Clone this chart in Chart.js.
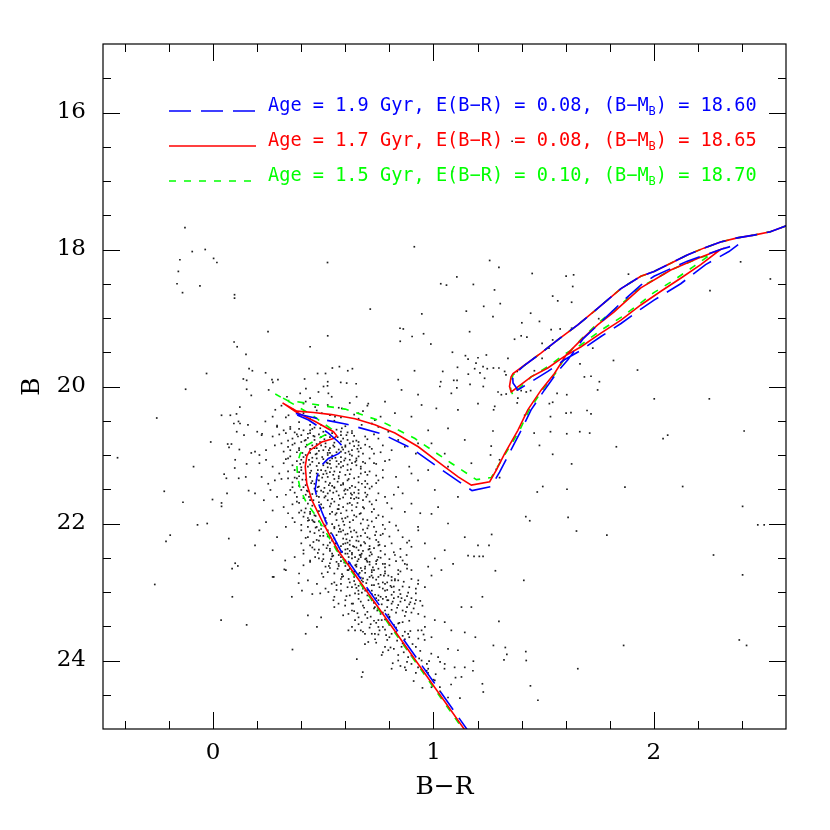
<!DOCTYPE html>
<html>
<head>
<meta charset="utf-8">
<script src="https://cdn.jsdelivr.net/npm/chart.js@4.4.0/dist/chart.umd.min.js"></script>
<style>
  body { margin: 0; background: #fff; }
  canvas { display: block; }
</style>
</head>
<body>
<canvas id="cmd" width="830" height="830"></canvas>
<script>
// Colour-magnitude diagram (B vs B-R) with three isochrones

// axis ticks
const xMajorTicks = [0, 1, 2];
const xAllTicks = [-0.4, -0.2, 0, 0.2, 0.4, 0.6, 0.8, 1, 1.2, 1.4, 1.6, 1.8, 2, 2.2, 2.4];
const yMajorTicks = [16, 18, 20, 22, 24];
const yAllTicks = [15.5, 16, 16.5, 17, 17.5, 18, 18.5, 19, 19.5, 20, 20.5, 21, 21.5, 22, 22.5, 23, 23.5, 24, 24.5];

// isochrone parameters (legend)
const isoAge = ['1.9', '1.7', '1.5'];
const isoEBR = ['0.08', '0.08', '0.10'];
const isoDM = ['18.60', '18.65', '18.70'];

// isochrones, [B-R, B]
const isoBlue = [
    [1.173, 25.1], [0.578, 22.39], [0.515, 22.00], [0.478, 21.71], [0.463, 21.51], [0.471, 21.32],
    [0.486, 21.17], [0.523, 21.05], [0.569, 20.98], [0.596, 20.90], [0.569, 20.81], [0.523, 20.68],
    [0.433, 20.49], [0.357, 20.38],
    [0.478, 20.47], [0.606, 20.55], [0.765, 20.69], [0.900, 20.90], [1.039, 21.22], [1.175, 21.52],
    [1.262, 21.46], [1.300, 21.25], [1.398, 20.64], [1.443, 20.34], [1.504, 20.05], [1.564, 19.78],
    [1.610, 19.61], [1.680, 19.30], [1.760, 19.06], [1.851, 18.78], [1.941, 18.52], [2.001, 18.39],
    [2.152, 18.17], [2.303, 18.00], [2.386, 17.92],
    [2.341, 18.03], [2.235, 18.22], [2.122, 18.50], [2.001, 18.74], [1.941, 18.87], [1.851, 19.08],
    [1.760, 19.27], [1.670, 19.47], [1.594, 19.61], [1.519, 19.78], [1.443, 19.93], [1.383, 20.05],
    [1.361, 19.95], [1.360, 19.88], [1.368, 19.82],
    [1.413, 19.69], [1.489, 19.51], [1.564, 19.32], [1.655, 19.10], [1.745, 18.86], [1.851, 18.57],
    [1.941, 18.39], [2.001, 18.32], [2.077, 18.20], [2.152, 18.08], [2.227, 17.98], [2.303, 17.89],
    [2.379, 17.83], [2.454, 17.79], [2.529, 17.74], [2.605, 17.65]
];
const isoRed = [
    [1.161, 25.1], [0.566, 22.39], [0.500, 22.00], [0.448, 21.66], [0.425, 21.42], [0.418, 21.17],
    [0.425, 21.02], [0.440, 20.93], [0.493, 20.81], [0.546, 20.76], [0.561, 20.72], [0.546, 20.66],
    [0.463, 20.51], [0.380, 20.38], [0.315, 20.24],
    [0.380, 20.36], [0.456, 20.38], [0.538, 20.41], [0.644, 20.47], [0.734, 20.56], [0.825, 20.68],
    [0.931, 20.88], [1.021, 21.10], [1.112, 21.32], [1.172, 21.44], [1.255, 21.39], [1.285, 21.22],
    [1.323, 20.98], [1.383, 20.64], [1.428, 20.34], [1.489, 20.05], [1.549, 19.81], [1.602, 19.54],
    [1.670, 19.32], [1.745, 19.10], [1.820, 18.91], [1.851, 18.82], [1.941, 18.56], [2.077, 18.30],
    [2.198, 18.13], [2.303, 18.00],
    [2.213, 18.22], [2.122, 18.42], [2.032, 18.61], [1.941, 18.81], [1.851, 19.03], [1.760, 19.22],
    [1.670, 19.42], [1.594, 19.56], [1.519, 19.73], [1.443, 19.86], [1.353, 20.08],
    [1.345, 20.00], [1.352, 19.86], [1.361, 19.81],
    [1.413, 19.69], [1.489, 19.51], [1.564, 19.32], [1.655, 19.10], [1.745, 18.86], [1.851, 18.57],
    [1.941, 18.39], [2.001, 18.32], [2.077, 18.20], [2.152, 18.08], [2.227, 17.98], [2.303, 17.89],
    [2.379, 17.83], [2.454, 17.79], [2.529, 17.74], [2.605, 17.65]
];
const isoGreen = [
    [1.155, 25.1], [0.560, 22.39], [0.470, 21.90], [0.425, 21.71], [0.395, 21.50], [0.383, 21.30],
    [0.380, 21.15], [0.395, 20.98], [0.425, 20.86], [0.478, 20.76], [0.523, 20.68], [0.536, 20.62],
    [0.450, 20.42], [0.360, 20.25], [0.282, 20.11],
    [0.335, 20.20], [0.456, 20.26], [0.599, 20.33], [0.765, 20.51], [0.916, 20.76], [1.081, 21.12],
    [1.195, 21.36], [1.262, 21.33], [1.285, 21.20], [1.391, 20.64], [1.435, 20.34], [1.495, 20.05],
    [1.553, 19.81], [1.605, 19.54], [1.673, 19.30], [1.748, 19.07], [1.851, 18.80], [1.941, 18.55],
    [2.077, 18.30], [2.200, 18.13], [2.260, 18.07],
    [2.180, 18.25], [2.090, 18.45], [2.000, 18.63], [1.941, 18.78], [1.851, 18.99], [1.760, 19.18],
    [1.670, 19.39], [1.594, 19.53], [1.519, 19.71], [1.443, 19.86], [1.360, 20.12],
    [1.350, 20.05], [1.355, 19.90], [1.361, 19.83],
    [1.413, 19.69], [1.489, 19.51], [1.564, 19.32], [1.655, 19.10], [1.745, 18.86], [1.851, 18.57],
    [1.941, 18.39], [2.001, 18.32], [2.077, 18.20], [2.152, 18.08], [2.227, 17.98], [2.303, 17.89],
    [2.379, 17.83], [2.454, 17.79], [2.529, 17.74], [2.605, 17.65]
];

// stars, [B-R, B]
const starsHalo = [
    [-0.128,17.68],[-0.095,18.03],[-0.036,18.00],[0.002,18.13],[0.017,18.19],[-0.151,18.15],[-0.158,18.32],[-0.164,18.50],[-0.139,18.63],[-0.060,18.53],
    [0.097,18.66],[0.097,18.71],[0.519,18.19],[0.913,17.96],[0.713,18.87],[1.033,18.50],[1.059,18.52],[1.106,18.40],[1.181,18.51],[0.947,18.94],
    [1.149,18.90],[0.848,19.15],[0.863,19.16],[0.903,19.27],[0.955,19.23],[0.849,19.34],[0.988,19.38],[1.164,19.20],[0.249,19.20],[0.520,19.26],
    [0.440,19.42],[0.095,19.35],[0.109,19.42],[0.149,19.53],[1.086,19.50],[1.145,19.55],[1.157,19.60],[1.202,19.58],[1.193,19.66],[1.109,19.72],
    [1.187,19.74],[1.211,19.80],[1.158,19.82],[1.042,19.78],[0.914,19.77],[0.840,19.90],[1.033,19.93],[1.092,19.91],[1.107,19.91],[1.166,19.97],
    [1.106,20.02],[-0.030,19.81],[0.163,19.74],[0.178,19.77],[0.238,19.80],[0.137,19.89],[0.152,19.91],[0.267,19.90],[0.271,19.94],[0.294,19.90],
    [0.415,19.89],[0.421,20.03],[0.474,19.81],[0.510,19.81],[0.541,19.73],[0.573,19.71],[0.611,19.77],[0.632,19.74],[0.520,19.93],[0.579,19.94],
    [0.606,19.95],[0.649,19.96],[0.501,20.00],[0.519,19.99],[-0.125,20.04],[0.152,20.04],[1.357,16.42],[1.086,16.86]
];
const starsWest = [
    [0.173,20.13],[0.121,20.30],[0.038,20.42],[0.078,20.42],[0.106,20.40],[-0.256,20.46],[0.115,20.51],[0.094,20.54],[0.122,20.54],[0.158,20.56],
    [0.107,20.66],[0.140,20.71],[-0.011,20.81],[0.066,20.84],[0.083,20.84],[0.072,20.89],[0.119,20.92],[0.173,20.97],[-0.434,21.04],[0.100,21.07],
    [0.152,21.13],[0.098,21.19],[-0.089,21.17],[0.050,21.28],[0.060,21.34],[0.116,21.34],[0.148,21.32],[-0.222,21.53],[0.063,21.56],[0.161,21.52],
    [-0.137,21.69],[-0.003,21.65],[0.038,21.70],[0.038,21.75],[-0.071,22.02],[-0.027,22.00],[-0.195,22.17],[-0.214,22.26],[0.071,22.22],[0.100,22.58],
    [0.112,22.62],[0.086,22.66],[-0.265,22.89],[0.087,23.07],[0.036,23.41],[0.152,23.48]
];
const starsSubgiant = [
    [0.252,20.05],[0.335,20.15],[0.395,20.10],[0.440,20.17],[0.478,20.08],[0.523,20.10],[0.538,20.15],[0.651,20.15],[0.704,20.25],[0.780,20.22],
    [0.855,20.05],[0.930,20.12],[1.029,20.00],[1.081,20.10],[0.237,20.51],[0.282,20.34],[0.342,20.42],[0.410,20.25],[0.463,20.30],[0.493,20.39],
    [0.553,20.44],[0.584,20.32],[0.659,20.39],[0.734,20.49],[0.825,20.39],[0.900,20.44],[0.946,20.27],[1.013,20.32],[1.111,20.34],[1.202,20.25],
    [0.222,20.69],[0.290,20.59],[0.350,20.59],[0.440,20.56],[0.486,20.61],[0.584,20.61],[0.674,20.56],[0.750,20.59],[0.795,20.66],[0.976,20.64],
    [1.066,20.61],[0.991,20.83],[1.051,20.98],[1.142,20.78],[0.976,21.22],[1.066,21.17],[1.172,21.12],[1.006,21.51],[1.111,21.61],[0.991,21.86],
    [1.066,22.00],[1.142,22.20],[0.961,22.29],[1.051,22.39],[1.157,22.47],[1.021,21.76],[0.931,22.10]
];
const starsMainSeq = [
    [0.20,20.66],[0.22,20.71],[0.27,20.73],[0.33,20.68],[0.36,20.76],[0.37,20.83],[0.40,20.71],[0.42,20.78],[0.44,20.68],[0.46,20.73],
    [0.49,20.86],[0.51,20.83],[0.58,20.71],[0.61,20.78],[0.63,20.68],[0.66,20.81],[0.69,20.73],[0.75,20.76],[0.77,20.86],[0.84,20.78],
    [0.19,20.95],[0.21,21.00],[0.24,20.93],[0.28,20.86],[0.31,20.83],[0.34,20.88],[0.39,20.90],[0.46,20.90],[0.47,20.98],[0.50,20.93],
    [0.52,21.00],[0.55,20.88],[0.58,20.95],[0.60,20.86],[0.63,20.93],[0.67,20.90],[0.71,20.88],[0.73,20.98],[0.81,20.93],[0.87,20.88],
    [0.93,20.83],[0.92,20.98],
    [0.21,21.12],[0.24,21.07],[0.27,21.17],[0.30,21.27],[0.32,21.12],[0.34,21.05],[0.37,21.22],[0.40,21.07],[0.43,21.17],[0.45,21.10],
    [0.47,21.27],[0.49,21.22],[0.52,21.12],[0.54,21.05],[0.56,21.17],[0.58,21.10],[0.61,21.22],[0.63,21.12],[0.65,21.05],[0.67,21.20],
    [0.70,21.29],[0.73,21.12],[0.77,21.22],[0.80,21.07],[0.83,21.32],[0.89,21.17],[0.93,21.37],[0.22,21.32],[0.25,21.42],[0.28,21.37],
    [0.34,21.34],[0.38,21.34],[0.41,21.27],[0.44,21.32],[0.48,21.37],[0.52,21.32],[0.57,21.34],[0.61,21.37],[0.66,21.32],[0.70,21.42],
    [0.75,21.37],[0.84,21.47],[0.90,21.27],
    [0.19,21.56],[0.23,21.66],[0.26,21.51],[0.29,21.61],[0.32,21.76],[0.36,21.47],[0.38,21.61],[0.40,21.51],[0.43,21.71],[0.46,21.49],
    [0.48,21.61],[0.50,21.54],[0.52,21.66],[0.55,21.47],[0.57,21.59],[0.59,21.76],[0.61,21.51],[0.64,21.64],[0.66,21.56],[0.68,21.76],
    [0.71,21.49],[0.74,21.66],[0.78,21.61],[0.81,21.78],[0.86,21.56],[0.90,21.71],[0.94,21.85],[0.27,21.81],[0.34,21.85],[0.40,21.81],
    [0.44,21.83],[0.49,21.78],[0.54,21.83],[0.58,21.85],[0.63,21.81],[0.67,21.85],[0.72,21.83],[0.77,21.90],[0.87,21.83],
    [0.21,22.10],[0.24,21.98],[0.29,22.20],[0.33,22.05],[0.37,21.98],[0.40,22.10],[0.43,22.20],[0.45,21.95],[0.48,22.10],[0.51,22.03],
    [0.53,22.20],[0.55,22.05],[0.58,22.12],[0.60,22.29],[0.62,22.25],[0.64,22.34],[0.61,22.15],[0.64,22.10],[0.67,22.00],[0.70,22.20],
    [0.73,22.05],[0.77,22.15],[0.80,21.98],[0.84,22.10],[0.89,22.25],[0.93,22.05],[0.40,22.29],[0.44,22.32],[0.48,22.25],[0.52,22.32],
    [0.56,22.29],[0.61,22.37],[0.67,22.32],[0.75,22.32],[0.81,22.29],[0.90,22.34],[0.19,22.32],[0.27,22.39],
    [0.33,22.68],[0.37,22.49],[0.41,22.44],[0.44,22.56],[0.48,22.51],[0.51,22.63],[0.54,22.44],[0.56,22.56],[0.58,22.49],[0.61,22.44],
    [0.63,22.51],[0.65,22.63],[0.67,22.46],[0.70,22.56],[0.72,22.68],[0.75,22.49],[0.77,22.59],[0.81,22.78],[0.86,22.54],[0.90,22.68],
    [0.93,22.88],[0.27,22.78],[0.39,22.73],[0.43,22.83],[0.50,22.78],[0.55,22.73],[0.58,22.81],[0.61,22.68],[0.64,22.78],[0.68,22.85],
    [0.71,22.78],[0.75,22.88],[0.78,22.73],[0.84,22.83],[0.89,22.93],
    [0.45,23.03],[0.51,22.95],[0.55,23.07],[0.58,22.98],[0.60,23.12],[0.63,22.93],[0.66,23.03],[0.69,22.98],[0.72,23.12],[0.75,23.05],
    [0.78,22.98],[0.81,23.17],[0.84,23.07],[0.88,23.22],[0.92,23.12],[0.55,23.22],[0.59,23.34],[0.63,23.27],[0.66,23.37],[0.70,23.29],
    [0.73,23.42],[0.76,23.32],[0.80,23.37],[0.84,23.46],[0.89,23.42],[0.93,23.56],[0.63,23.51],[0.67,23.56],[0.72,23.61],[0.77,23.51],
    [0.81,23.61],[0.86,23.64],[0.49,23.37],[0.42,23.61]
];
const starsCore = [
    [0.35,20.62],[0.38,20.70],[0.41,20.64],[0.43,20.75],[0.45,20.62],[0.48,20.70],[0.50,20.66],[0.53,20.74],[0.56,20.63],[0.58,20.80],
    [0.61,20.67],[0.64,20.87],[0.36,20.85],[0.39,20.93],[0.42,20.88],[0.44,20.97],[0.47,20.84],[0.53,20.90],[0.56,20.96],[0.59,20.92],
    [0.62,20.99],[0.66,20.95],[0.69,20.85],[0.32,20.95],[0.30,20.70],
    [0.35,21.02],[0.38,21.09],[0.41,21.03],[0.44,21.14],[0.47,21.05],[0.50,21.15],[0.53,21.08],[0.55,21.24],[0.58,21.18],[0.60,21.05],
    [0.62,21.28],[0.65,21.15],[0.68,21.10],[0.71,21.24],[0.36,21.40],[0.39,21.25],[0.42,21.44],[0.45,21.38],[0.48,21.46],[0.50,21.28],
    [0.53,21.41],[0.55,21.48],[0.59,21.43],[0.63,21.45],[0.66,21.40],[0.69,21.47],[0.74,21.30],[0.31,21.35],
    [0.37,21.55],[0.39,21.70],[0.42,21.58],[0.44,21.66],[0.47,21.53],[0.49,21.72],[0.51,21.60],[0.53,21.52],[0.55,21.68],[0.57,21.73],
    [0.60,21.57],[0.62,21.70],[0.65,21.62],[0.69,21.55],[0.72,21.72],[0.41,21.90],[0.43,21.96],[0.46,21.88],[0.48,21.97],[0.51,21.92],
    [0.53,21.86],[0.56,21.95],[0.60,21.92],[0.62,21.98],[0.65,21.90],[0.70,21.95],[0.75,21.88],[0.36,21.92],
    [0.43,22.05],[0.46,22.14],[0.49,22.02],[0.50,22.18],[0.52,22.10],[0.54,22.25],[0.56,22.17],[0.57,22.03],[0.59,22.22],[0.60,22.38],
    [0.62,22.31],[0.63,22.43],[0.65,22.35],[0.66,22.26],[0.68,22.40],[0.69,22.14],[0.71,22.33],[0.72,22.45],[0.74,22.24],[0.76,22.40],
    [0.78,22.08],[0.46,22.38],[0.50,22.45],[0.53,22.40],[0.57,22.46],[0.59,22.30],[0.82,22.42],[0.86,22.20],
    [0.58,22.55],[0.60,22.62],[0.62,22.58],[0.64,22.70],[0.66,22.52],[0.67,22.65],[0.69,22.72],[0.71,22.60],[0.73,22.68],[0.74,22.55],
    [0.76,22.75],[0.78,22.64],[0.80,22.52],[0.62,22.86],[0.65,22.94],[0.68,22.80],[0.70,22.97],[0.72,22.90],[0.74,22.82],[0.77,22.95],
    [0.79,22.86],[0.82,22.92],[0.85,22.70],[0.88,22.60],[0.56,22.90],[0.53,22.65],
    [0.66,23.10],[0.68,23.20],[0.70,23.05],[0.73,23.16],[0.75,23.25],[0.77,23.10],[0.79,23.22],[0.81,23.04],[0.83,23.30],[0.85,23.14],
    [0.87,23.35],[0.70,23.38],[0.74,23.45],[0.78,23.40],[0.82,23.48],[0.86,23.44],[0.90,23.30],[0.95,23.20],
    [0.75,23.62],[0.79,23.70],[0.83,23.58],[0.86,23.75],[0.89,23.66],[0.92,23.80],[0.96,23.70],[0.99,23.90],[0.84,23.92],[0.88,24.02],
    [0.93,24.10],[0.97,24.05],[1.01,24.20],[1.05,24.12],[0.91,24.30],[1.08,24.35],[1.03,24.45]
];
const starsCoreDense = [
    [0.31,20.28],[0.36,20.33],[0.42,20.22],[0.47,20.35],[0.52,20.27],[0.57,20.31],[0.62,20.24],[0.68,20.36],[0.33,20.45],[0.39,20.52],
    [0.44,20.47],[0.49,20.56],[0.55,20.50],[0.60,20.58],[0.66,20.47],[0.72,20.54],[0.29,20.57],[0.41,20.39],[0.53,20.42],[0.64,20.41],
    [0.27,20.44],[0.46,20.60],[0.58,20.45],[0.70,20.28],[0.76,20.44],
    [0.32,20.64],[0.34,20.79],[0.37,20.67],[0.38,20.96],[0.40,20.81],[0.41,21.11],[0.43,20.69],[0.44,20.91],[0.45,21.04],[0.46,20.78],
    [0.47,21.16],[0.48,20.94],[0.49,20.74],[0.50,21.06],[0.51,20.88],[0.52,21.18],[0.53,20.97],[0.54,20.68],[0.55,20.82],[0.56,21.09],
    [0.57,20.92],[0.58,21.03],[0.59,20.76],[0.60,20.97],[0.61,21.14],[0.62,20.83],[0.63,21.01],[0.64,20.72],[0.65,21.08],[0.66,20.86],
    [0.67,21.17],[0.68,20.98],[0.70,20.77],[0.71,21.05],[0.72,20.91],[0.74,21.13],[0.76,20.96],[0.36,21.15],[0.39,20.62],[0.42,21.00],
    [0.45,20.86],[0.48,21.12],[0.51,20.71],[0.54,21.01],[0.57,21.13],[0.60,20.88],[0.63,20.65],[0.66,21.02],[0.69,21.12],[0.35,20.93],
    [0.44,20.64],[0.52,20.97],[0.58,20.66],[0.62,21.07],[0.33,21.06],[0.40,21.18],[0.47,20.90],[0.53,21.13],[0.59,21.16],[0.65,20.79],
    [0.73,20.70],[0.78,21.09],
    [0.34,21.24],[0.35,21.51],[0.37,21.33],[0.38,21.68],[0.39,21.45],[0.40,21.22],[0.41,21.63],[0.42,21.36],[0.43,21.53],[0.44,21.26],
    [0.45,21.74],[0.46,21.42],[0.47,21.60],[0.48,21.30],[0.49,21.52],[0.50,21.77],[0.51,21.39],[0.52,21.56],[0.53,21.25],[0.54,21.64],
    [0.55,21.35],[0.56,21.53],[0.57,21.79],[0.58,21.44],[0.59,21.62],[0.60,21.29],[0.61,21.71],[0.62,21.48],[0.63,21.58],[0.64,21.34],
    [0.65,21.76],[0.66,21.51],[0.67,21.27],[0.68,21.66],[0.69,21.38],[0.70,21.58],[0.72,21.46],[0.73,21.79],[0.75,21.56],[0.77,21.33],
    [0.79,21.70],[0.36,21.72],[0.39,21.31],[0.42,21.78],[0.45,21.57],[0.48,21.69],[0.51,21.23],[0.54,21.45],[0.57,21.31],[0.60,21.50],
    [0.63,21.73],[0.66,21.63],[0.69,21.25],[0.71,21.68],[0.33,21.58],[0.41,21.47],[0.47,21.36],[0.53,21.75],[0.59,21.41],[0.64,21.55],
    [0.74,21.41],[0.82,21.58],
    [0.39,21.84],[0.40,22.02],[0.42,22.21],[0.43,21.92],[0.44,22.12],[0.45,22.35],[0.46,21.98],[0.47,22.24],[0.48,21.82],[0.49,22.08],
    [0.50,22.31],[0.51,21.96],[0.52,22.19],[0.53,22.37],[0.54,22.01],[0.55,22.22],[0.56,21.85],[0.57,22.12],[0.58,22.33],[0.59,21.97],
    [0.60,22.16],[0.61,22.28],[0.62,22.06],[0.63,22.20],[0.64,21.88],[0.65,22.13],[0.66,22.39],[0.67,22.18],[0.68,21.94],[0.69,22.29],
    [0.70,22.07],[0.71,22.22],[0.72,21.97],[0.73,22.36],[0.74,22.12],[0.75,22.27],[0.77,22.02],[0.78,22.33],[0.80,22.19],[0.83,22.03],
    [0.85,22.37],[0.41,22.39],[0.44,21.86],[0.47,22.05],[0.50,22.13],[0.53,22.28],[0.56,22.36],[0.59,22.10],[0.62,22.40],[0.65,22.25],
    [0.68,22.09],[0.71,22.37],[0.74,21.92],[0.48,22.38],[0.55,22.07],[0.61,21.90],[0.67,22.32],[0.76,22.17],[0.88,22.28],
    [0.50,22.52],[0.52,22.71],[0.54,22.48],[0.55,22.86],[0.57,22.62],[0.58,22.42],[0.59,22.77],[0.60,22.54],[0.61,22.93],[0.62,22.66],
    [0.63,22.45],[0.64,22.84],[0.65,22.60],[0.66,22.74],[0.67,22.49],[0.68,22.95],[0.69,22.63],[0.70,22.82],[0.71,22.47],[0.72,22.71],
    [0.73,22.90],[0.74,22.59],[0.75,22.78],[0.76,22.50],[0.77,22.86],[0.78,22.70],[0.79,22.97],[0.80,22.61],[0.81,22.83],[0.83,22.55],
    [0.84,22.74],[0.86,22.92],[0.88,22.66],[0.90,22.81],[0.56,22.97],[0.60,22.44],[0.63,22.69],[0.66,22.91],[0.69,22.52],[0.72,22.98],
    [0.75,22.66],[0.78,22.45],[0.82,23.00],[0.53,22.58],[0.58,22.88],[0.67,22.79],[0.71,22.56],[0.85,22.49],[0.92,22.95],
    [0.62,23.05],[0.64,23.28],[0.66,23.47],[0.67,23.14],[0.69,23.33],[0.71,23.52],[0.72,23.03],[0.73,23.24],[0.75,23.41],[0.76,23.07],
    [0.77,23.30],[0.78,23.55],[0.79,23.12],[0.80,23.36],[0.81,23.26],[0.82,23.09],[0.84,23.19],[0.85,23.03],[0.86,23.27],[0.87,23.12],
    [0.88,23.06],[0.89,23.18],[0.90,23.09],[0.91,23.24],[0.92,23.02],[0.94,23.13],[0.96,23.36],[0.83,23.52],[0.87,23.58],[0.68,23.58],
    [0.74,23.09],[0.80,23.48],
    [0.74,23.74],[0.77,23.88],[0.80,23.66],[0.82,23.83],[0.85,24.08],[0.87,23.69],[0.90,23.93],[0.92,24.18],[0.94,23.86],[0.98,24.01],
    [1.00,24.28],[1.03,24.02],[0.81,24.12],[0.95,24.40],[1.10,24.25],[1.12,24.55]
];
const starsCoreInner = [
    [0.385,20.73],[0.405,20.97],[0.415,20.79],[0.435,21.07],[0.455,20.72],[0.465,20.99],[0.475,21.22],[0.485,20.81],[0.495,21.03],[0.505,20.77],
    [0.515,21.27],[0.525,20.93],[0.535,21.19],[0.545,20.86],[0.555,21.04],[0.565,20.74],[0.575,21.25],[0.585,20.89],[0.595,21.08],[0.605,20.71],
    [0.615,20.95],[0.625,21.21],[0.635,20.80],[0.645,21.10],[0.655,20.91],[0.395,21.13],[0.425,20.85],[0.445,21.23],[0.515,21.11],[0.545,21.29],
    [0.405,21.36],[0.415,21.84],[0.425,21.52],[0.435,21.95],[0.445,21.41],[0.455,21.66],[0.465,21.89],[0.475,21.47],[0.485,21.76],[0.495,21.33],
    [0.505,21.62],[0.515,21.99],[0.525,21.44],[0.535,21.71],[0.545,21.55],[0.555,21.87],[0.565,21.39],[0.575,21.64],[0.585,21.93],[0.595,21.52],
    [0.605,21.81],[0.615,21.35],[0.625,21.63],[0.635,21.95],[0.645,21.47],[0.655,21.70],[0.665,21.86],[0.675,21.42],[0.685,21.78],[0.695,21.61],
    [0.435,21.61],[0.505,21.48],[0.565,21.79],[0.625,21.56],[0.455,21.97],
    [0.455,22.27],[0.465,22.06],[0.475,22.43],[0.485,22.18],[0.495,22.55],[0.505,22.04],[0.515,22.36],[0.525,22.62],[0.535,22.14],[0.545,22.47],
    [0.555,22.29],[0.565,22.66],[0.575,22.08],[0.585,22.41],[0.595,22.57],[0.605,22.23],[0.615,22.49],[0.625,22.12],[0.635,22.33],[0.645,22.61],
    [0.655,22.19],[0.665,22.46],[0.675,22.69],[0.685,22.27],[0.695,22.51],[0.705,22.03],[0.715,22.42],[0.725,22.64],[0.735,22.17],[0.745,22.53],
    [0.755,22.31],[0.535,22.52],[0.595,22.02],[0.655,22.55],[0.705,22.38],
    [0.585,22.74],[0.605,23.06],[0.615,22.81],[0.635,23.17],[0.645,22.89],[0.655,23.31],[0.665,22.72],[0.675,23.01],[0.685,23.23],[0.695,22.87],
    [0.705,23.12],[0.715,23.36],[0.725,22.79],[0.735,23.04],[0.745,23.27],[0.755,22.93],[0.765,23.18],[0.775,22.76],[0.785,23.07],[0.795,23.33],
    [0.805,22.91],[0.815,23.14],[0.825,22.81],[0.835,23.23],[0.845,22.97],[0.855,23.09],[0.865,22.85],[0.875,23.29],[0.885,23.01],[0.895,23.15],
    [0.715,23.47],[0.735,23.69],[0.755,23.56],[0.765,23.92],[0.785,23.63],[0.805,23.81],[0.815,24.04],[0.835,23.71],[0.845,23.45],[0.865,23.88],
    [0.875,24.14],[0.895,23.57],[0.905,23.76],[0.935,23.97],[0.955,23.62],[0.975,24.18]
];
const starsLowerMS = [
    [0.275,22.78],[0.327,22.54],[0.323,22.67],[0.410,22.61],[0.440,22.54],[0.463,22.49],[0.493,22.73],[0.471,22.88],[0.388,22.87],[0.403,22.98],
    [0.486,23.02],[0.523,23.00],[0.357,23.07],[0.430,23.34],[0.360,23.84],[0.471,23.51],[0.546,23.12],[0.569,23.17],[0.599,23.20],[0.538,22.88],
    [0.584,22.78],[0.614,22.68],[0.569,22.59],[0.614,22.59],[0.644,22.49],[0.674,22.44],[0.697,22.54],[0.689,22.66],[0.719,22.76],[0.674,22.83],
    [0.659,22.98],[0.644,23.02],[0.629,23.17],[0.614,23.32],[0.644,23.41],[0.614,23.56],[0.644,23.56],[0.674,23.44],[0.689,23.61],[0.704,23.73],
    [0.689,23.76],[0.734,23.61],[0.750,23.51],[0.765,23.41],[0.780,23.27],[0.795,23.12],[0.750,23.12],[0.734,23.22],[0.780,22.88],[0.795,22.76],
    [0.825,22.83],[0.810,22.93],[0.840,22.68],[0.870,22.59],[0.878,22.46],[0.825,22.46],[0.780,22.59],[0.931,22.83],[0.961,22.93],[0.991,22.76],
    [1.036,22.68],[0.915,23.17],[0.931,23.32],[0.961,23.51],[0.946,23.56],[0.991,23.66],[0.931,23.68],[0.885,23.61],[0.855,23.80],[0.795,23.85],
    [0.780,23.80],[0.840,24.00],[0.870,24.10],[0.900,24.05],[0.976,24.12],[1.021,23.95],[1.066,23.83],[1.111,23.85],[1.142,23.59],[1.081,23.56],
    [1.051,23.44],[1.006,23.41],[1.127,23.22],[1.172,23.22],[1.142,24.10],[1.127,24.24],[1.066,24.54],[1.029,24.39],[0.991,24.39],[1.006,24.29],
    [0.652,23.98],[0.679,24.17],[0.674,24.24],[0.885,23.95],[0.946,24.00],[0.969,24.15],[1.051,24.05],[1.096,24.10],[1.089,22.59],[1.006,22.51],
    [0.976,22.63]
];
const starsField = [
    [1.270,20.65],[1.457,20.68],[1.531,20.66],[1.605,20.69],[1.664,20.66],[1.709,20.68],[2.042,20.76],[2.063,20.71],[2.410,20.65],[1.262,20.87],
    [1.481,20.86],[1.830,20.88],[1.259,21.00],[1.541,20.99],[1.300,21.07],[1.627,21.13],[1.285,21.21],[1.300,21.33],[1.496,21.46],[1.471,21.54],
    [1.606,21.50],[1.869,21.47],[2.131,21.46],[2.403,21.75],[1.419,21.90],[1.437,21.96],[1.611,21.91],[1.649,22.11],[1.787,22.17],[2.472,22.02],
    [2.501,22.02],[1.264,22.16],[1.202,22.32],[1.252,22.32],[1.184,22.48],[1.208,22.48],[1.225,22.48],[2.271,22.46],[1.281,22.69],[1.410,22.83],
    [2.403,22.75],[1.222,23.07],[1.297,23.43],[1.190,23.66],[1.272,23.78],[1.326,23.81],[1.333,23.91],[1.320,23.99],[1.419,23.87],[1.421,24.00],
    [1.181,24.01],[1.179,24.15],[1.655,24.12],[1.863,23.78],[2.388,23.70],[2.421,23.78],[1.222,24.34],[1.226,24.46],[1.440,24.37],[1.474,24.58]
];
const starsGiants = [
    [1.255,18.16],[1.297,18.26],[1.448,18.35],[1.602,18.39],[1.636,18.37],[1.885,18.36],[1.632,18.54],[1.277,18.59],[1.541,18.68],[1.564,18.75],
    [1.627,18.77],[1.303,18.79],[1.228,18.83],[1.441,18.93],[1.270,18.98],[1.481,19.05],[1.401,19.07],[1.750,19.01],[1.534,19.17],[1.575,19.16],
    [1.398,19.26],[1.424,19.28],[1.368,19.31],[1.541,19.32],[1.627,19.15],[1.493,19.37],[1.524,19.44],[1.723,19.44],[1.240,19.54],[1.338,19.59],
    [1.493,19.59],[1.817,19.62],[1.665,19.67],[1.225,19.71],[1.244,19.74],[1.272,19.73],[1.297,19.73],[1.323,19.78],[1.232,19.88],[1.329,19.83],
    [1.380,19.78],[1.458,19.77],[1.685,19.86],[1.715,19.85],[1.753,19.93],[1.926,19.76],[1.226,20.00],[1.293,20.08],[1.308,20.12],[1.330,20.11],
    [1.380,20.05],[1.398,20.06],[1.421,20.08],[1.441,20.06],[1.383,20.17],[1.380,20.24],[1.745,20.05],[1.561,20.10],[1.605,20.12],[1.278,20.29],
    [1.273,20.34],[1.541,20.23],[1.526,20.25],[1.602,20.39],[1.624,20.38],[1.697,20.35],[1.715,20.40],[1.531,20.44],[1.414,20.42],
    [2.394,18.18],[2.529,18.43],[2.255,18.60],[2.252,20.18],[2.002,20.18]
];

const toXY = pts => pts.map(([x, y]) => ({x, y}));
const allStars = [].concat(starsHalo, starsWest, starsSubgiant, starsMainSeq, starsCore,
                           starsCoreDense, starsCoreInner, starsLowerMS, starsField, starsGiants);

const isoStyles = [
    {color: '#0000ff', dash: [22, 10]},
    {color: '#ff0000', dash: []},
    {color: '#00ff00', dash: [7, 8]}
];
const isoData = [isoBlue, isoRed, isoGreen];

function isoDataset(i) {
    return {
        data: toXY(isoData[i]),
        showLine: true,
        pointRadius: 0,
        borderColor: isoStyles[i].color,
        borderDash: isoStyles[i].dash,
        borderWidth: 1.6,
        fill: false,
        tension: 0,
        order: i + 1
    };
}

const serif = 'DejaVu Serif';
const legendFont = '"DejaVu Sans Mono"';

// frame, inward ticks on all sides, and the legend block
const framePlugin = {
    id: 'frame',
    afterDraw(chart) {
        const {ctx, chartArea: a, scales: {x, y}} = chart;
        ctx.save();
        ctx.strokeStyle = '#000';
        ctx.lineWidth = 1.2;
        ctx.setLineDash([]);
        ctx.strokeRect(a.left, a.top, a.right - a.left, a.bottom - a.top);

        ctx.lineWidth = 1;
        ctx.beginPath();
        xAllTicks.forEach(v => {
            const px = Math.round(x.getPixelForValue(v)) + 0.5;
            const len = xMajorTicks.includes(v) ? 17 : 8;
            ctx.moveTo(px, a.bottom); ctx.lineTo(px, a.bottom - len);
            ctx.moveTo(px, a.top); ctx.lineTo(px, a.top + len);
        });
        yAllTicks.forEach(v => {
            const py = Math.round(y.getPixelForValue(v)) + 0.5;
            const len = yMajorTicks.includes(v) ? 17 : 8;
            ctx.moveTo(a.left, py); ctx.lineTo(a.left + len, py);
            ctx.moveTo(a.right, py); ctx.lineTo(a.right - len, py);
        });
        ctx.stroke();

        // legend
        const rowY = [111, 146, 181];
        isoAge.forEach((age, i) => {
            const st = isoStyles[i];
            ctx.strokeStyle = st.color;
            ctx.fillStyle = st.color;
            ctx.lineWidth = 1.6;
            ctx.setLineDash(st.dash);
            ctx.beginPath();
            ctx.moveTo(169, rowY[i]);
            ctx.lineTo(256, rowY[i]);
            ctx.stroke();
            ctx.setLineDash([]);

            const head = `Age = ${age} Gyr, E(B\u2212R) = ${isoEBR[i]}, (B\u2212M`;
            const tail = `) = ${isoDM[i]}`;
            ctx.textBaseline = 'alphabetic';
            ctx.textAlign = 'left';
            ctx.font = `18.6px ${legendFont}`;
            let tx = 268;
            ctx.fillText(head, tx, rowY[i]);
            tx += ctx.measureText(head).width;
            ctx.font = `12px ${legendFont}`;
            ctx.fillText('B', tx, rowY[i] + 4);
            tx += ctx.measureText('B').width;
            ctx.font = `18.6px ${legendFont}`;
            ctx.fillText(tail, tx, rowY[i]);
        });
        ctx.restore();
    }
};

new Chart(document.getElementById('cmd'), {
    type: 'scatter',
    plugins: [framePlugin],
    data: {
        datasets: [
            {
                data: toXY(allStars),
                pointStyle: 'rect',
                pointRadius: 1.2,
                backgroundColor: 'rgba(0,0,0,0.88)',
                borderWidth: 0,
                order: 10
            },
            isoDataset(0),
            isoDataset(1),
            isoDataset(2)
        ]
    },
    options: {
        responsive: false,
        animation: false,
        layout: {padding: {top: 44, right: 44, left: 0, bottom: 0}},
        plugins: {
            legend: {display: false},
            tooltip: {enabled: false}
        },
        scales: {
            x: {
                type: 'linear',
                min: -0.5,
                max: 2.6,
                grid: {display: false, drawTicks: false},
                border: {display: false},
                afterBuildTicks: s => { s.ticks = xMajorTicks.map(v => ({value: v})); },
                afterFit: s => { s.height = 101; },
                ticks: {
                    color: '#000',
                    font: {family: serif, size: 23},
                    padding: 10,
                    maxRotation: 0,
                    callback: v => String(v)
                },
                title: {
                    display: true,
                    text: 'B\u2212R',
                    color: '#000',
                    font: {family: serif, size: 25},
                    padding: {top: 0, bottom: 28}
                }
            },
            y: {
                type: 'linear',
                reverse: true,
                min: 15,
                max: 25,
                grid: {display: false, drawTicks: false},
                border: {display: false},
                afterBuildTicks: s => { s.ticks = yMajorTicks.map(v => ({value: v})); },
                afterFit: s => { s.width = 103; },
                ticks: {
                    color: '#000',
                    font: {family: serif, size: 23},
                    padding: 17,
                    callback: v => String(v)
                },
                title: {
                    display: true,
                    text: 'B',
                    color: '#000',
                    font: {family: serif, size: 25},
                    padding: {top: 17, bottom: 0}
                }
            }
        }
    }
});
</script>
</body>
</html>
